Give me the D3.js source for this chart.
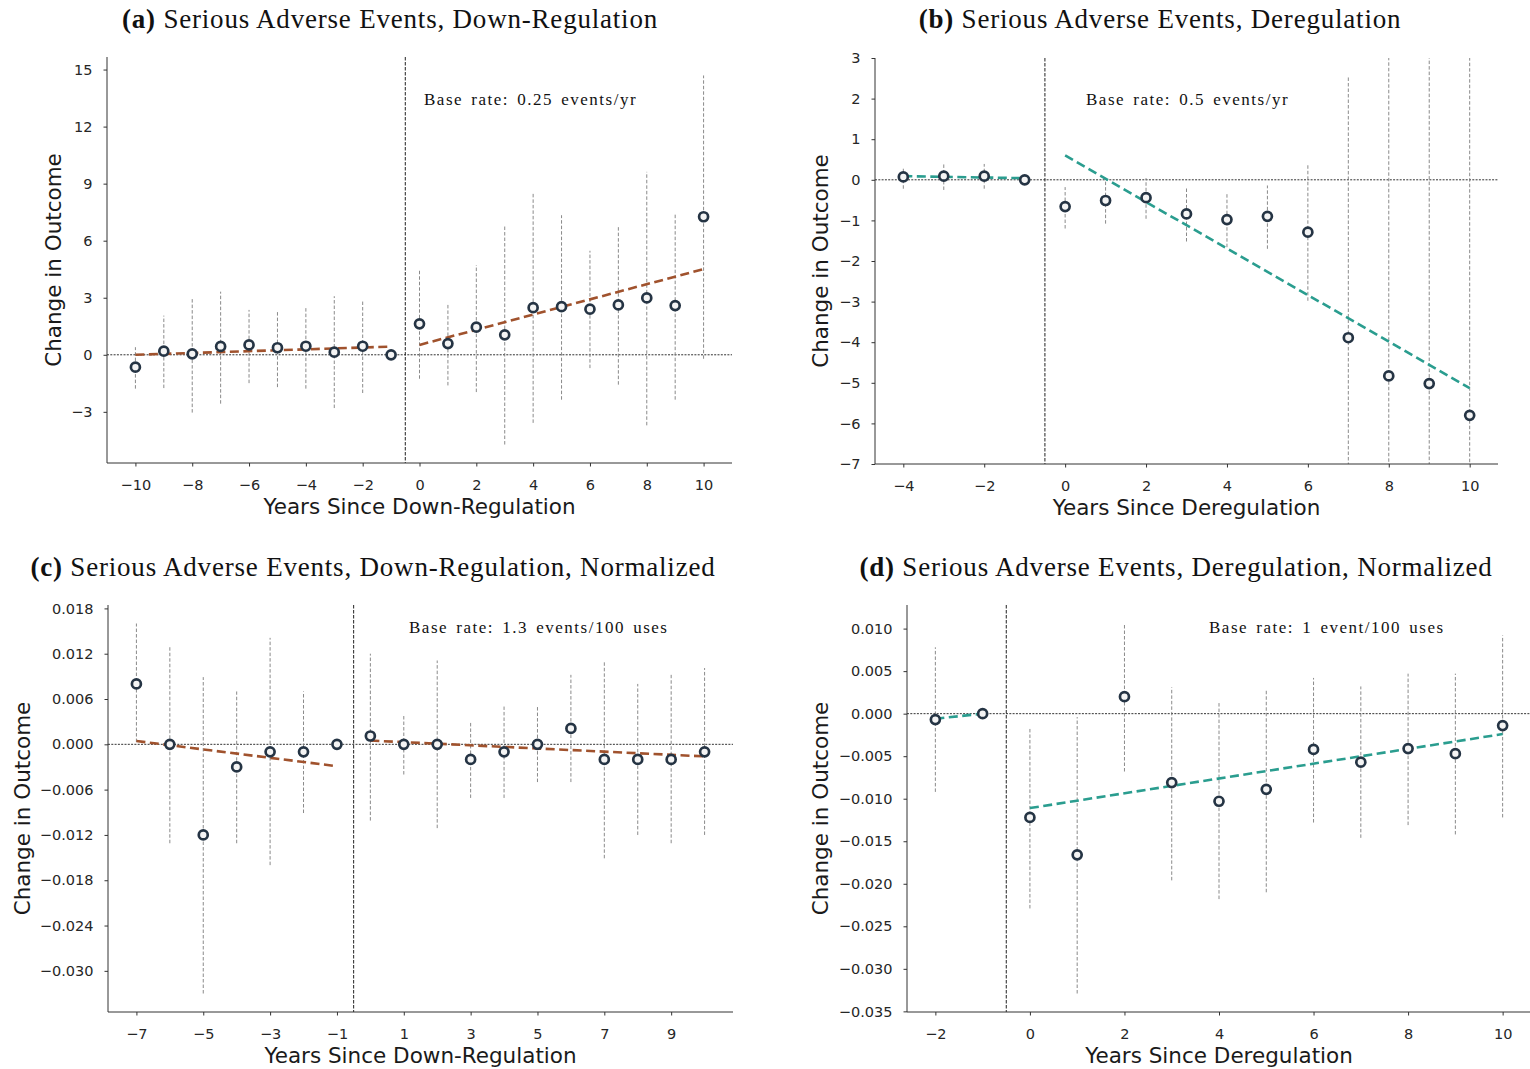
<!DOCTYPE html>
<html>
<head>
<meta charset="utf-8">
<script src="https://cdn.jsdelivr.net/npm/d3@7"></script>
<style>
  body { margin: 0; background: #fff; }
  svg { display: block; }
</style>
</head>
<body>
<div id="chart"></div>
<script>
// panel (a) - serious adverse events, down-regulation
var aYears = [-10, -9, -8, -7, -6, -5, -4, -3, -2, -1, 0, 1, 2, 3, 4, 5, 6, 7, 8, 9, 10];
var aEst  = [-0.65, 0.19, 0.05, 0.44, 0.52, 0.37, 0.45, 0.14, 0.45, 0, 1.63, 0.59, 1.45, 1.05, 2.48, 2.53, 2.40, 2.62, 2.99, 2.59, 7.26];
var aLow  = [-1.78, -1.75, -3.04, -2.57, -1.49, -1.70, -1.78, -2.80, -2.01, 0, -1.26, -1.61, -1.96, -4.72, -3.58, -2.36, -0.70, -1.57, -3.71, -2.36, -0.21];
var aHigh = [0.40, 2.06, 3.02, 3.32, 2.36, 2.29, 2.53, 3.08, 2.80, 0, 4.42, 2.73, 4.72, 6.78, 8.50, 7.34, 5.47, 6.78, 9.62, 7.45, 14.69];
var aTrendPre  = [[-10, 0.0], [-1, 0.43]];
var aTrendPost = [[0, 0.52], [10, 4.51]];

// panel (b) - serious adverse events, deregulation
var bYears = [-4, -3, -2, -1, 0, 1, 2, 3, 4, 5, 6, 7, 8, 9, 10];
var bEst  = [0.07, 0.09, 0.09, 0, -0.66, -0.51, -0.44, -0.84, -0.98, -0.90, -1.29, -3.89, -4.83, -5.02, -5.80];
var bLow  = [-0.22, -0.25, -0.22, 0, -1.20, -1.08, -0.96, -1.52, -1.66, -1.70, -2.98, -10.3, -12.5, -13.0, -14.0];
var bHigh = [0.31, 0.41, 0.39, 0, -0.18, 0.02, 0.04, -0.20, -0.34, -0.14, 0.38, 2.55, 3.4, 3.5, 3.6];
var bTrendPre  = [[-4, 0.09], [-1, 0.04]];
var bTrendPost = [[0, 0.60], [10, -5.13]];

// panel (c) - down-regulation, normalized
var cYears = [-7, -6, -5, -4, -3, -2, -1, 0, 1, 2, 3, 4, 5, 6, 7, 8, 9, 10];
var cEst  = [0.0080, 0.0, -0.0120, -0.0030, -0.0010, -0.0010, 0, 0.0011, 0.0, 0.0, -0.0020, -0.0010, 0.0, 0.0021, -0.0020, -0.0020, -0.0020, -0.0010];
var cLow  = [0.0003, -0.0131, -0.0330, -0.0131, -0.0160, -0.0091, 0, -0.0101, -0.0040, -0.0111, -0.0071, -0.0071, -0.0050, -0.0050, -0.0151, -0.0120, -0.0131, -0.0120];
var cHigh = [0.0160, 0.0131, 0.0089, 0.0070, 0.0141, 0.0070, 0, 0.0120, 0.0039, 0.0111, 0.0030, 0.0050, 0.0050, 0.0092, 0.0111, 0.0080, 0.0092, 0.0101];
var cTrendPre  = [[-7, 0.00044], [-1, -0.0029]];
var cTrendPost = [[0, 0.0005], [10, -0.0016]];

// panel (d) - deregulation, normalized
var dYears = [-2, -1, 0, 1, 2, 3, 4, 5, 6, 7, 8, 9, 10];
var dEst  = [-0.0007, 0, -0.0122, -0.0166, 0.0020, -0.0081, -0.0103, -0.0089, -0.0042, -0.0057, -0.0041, -0.0047, -0.0014];
var dLow  = [-0.0092, 0, -0.0229, -0.0329, -0.0068, -0.0196, -0.0218, -0.0210, -0.0128, -0.0146, -0.0131, -0.0142, -0.0122];
var dHigh = [0.0078, 0, -0.0016, -0.0004, 0.0106, 0.0031, 0.0013, 0.0028, 0.0042, 0.0032, 0.0047, 0.0047, 0.0092];
var dTrendPre  = [[-2, -0.0006], [-1, 0.0]];
var dTrendPost = [[0, -0.0111], [10, -0.0024]];

var yTicksA = [-3, 0, 3, 6, 9, 12, 15];
var yTicksB = [-7, -6, -5, -4, -3, -2, -1, 0, 1, 2, 3];
var yTicksC = [-0.030, -0.024, -0.018, -0.012, -0.006, 0.000, 0.006, 0.012, 0.018];
var yTicksD = [-0.035, -0.030, -0.025, -0.020, -0.015, -0.010, -0.005, 0.000, 0.005, 0.010];
var xTicksA = [-10, -8, -6, -4, -2, 0, 2, 4, 6, 8, 10];
var xTicksB = [-4, -2, 0, 2, 4, 6, 8, 10];
var xTicksC = [-7, -5, -3, -1, 1, 3, 5, 7, 9];
var xTicksD = [-2, 0, 2, 4, 6, 8, 10];

var BROWN = '#a0522d';
var TEAL = '#2a9d8f';

var panels = [
  { tag: '(a)', title: 'Serious Adverse Events, Down-Regulation', titleX: 390, titleY: 28,
    box: [107, 57, 732, 463], xs: aYears, est: aEst, lo: aLow, hi: aHigh, pre: aTrendPre, post: aTrendPost,
    yTicks: yTicksA, xTicks: xTicksA, yFmt: d3.format('d'), yFixed: null, color: BROWN,
    xLabel: 'Years Since Down-Regulation', yLabelOff: 54, note: 'Base rate: 0.25 events/yr', noteX: 424, noteY: 105 },
  { tag: '(b)', title: 'Serious Adverse Events, Deregulation', titleX: 1160, titleY: 28,
    box: [875, 58, 1498, 464], xs: bYears, est: bEst, lo: bLow, hi: bHigh, pre: bTrendPre, post: bTrendPost,
    yTicks: yTicksB, xTicks: xTicksB, yFmt: d3.format('d'), yFixed: [-7, 3], color: TEAL,
    xLabel: 'Years Since Deregulation', yLabelOff: 55, note: 'Base rate: 0.5 events/yr', noteX: 1086, noteY: 105 },
  { tag: '(c)', title: 'Serious Adverse Events, Down-Regulation, Normalized', titleX: 373, titleY: 576,
    box: [108, 605, 733, 1012], xs: cYears, est: cEst, lo: cLow, hi: cHigh, pre: cTrendPre, post: cTrendPost,
    yTicks: yTicksC, xTicks: xTicksC, yFmt: d3.format('.3f'), yFixed: null, color: BROWN,
    xLabel: 'Years Since Down-Regulation', yLabelOff: 86, note: 'Base rate: 1.3 events/100 uses', noteX: 409, noteY: 633 },
  { tag: '(d)', title: 'Serious Adverse Events, Deregulation, Normalized', titleX: 1176, titleY: 576,
    box: [907, 605, 1531, 1012], xs: dYears, est: dEst, lo: dLow, hi: dHigh, pre: dTrendPre, post: dTrendPost,
    yTicks: yTicksD, xTicks: xTicksD, yFmt: d3.format('.3f'), yFixed: null, color: TEAL,
    xLabel: 'Years Since Deregulation', yLabelOff: 87, note: 'Base rate: 1 event/100 uses', noteX: 1209, noteY: 633 }
];

var svg = d3.select('#chart').append('svg')
  .attr('width', 1530)
  .attr('height', 1069);

// matplotlib style 5% padding around the data
function padded(lo, hi) {
  var m = (hi - lo) * 0.05;
  return [lo - m, hi + m];
}

panels.forEach(function (p, i) {
  var x0 = p.box[0], y0 = p.box[1], x1 = p.box[2], y1 = p.box[3];
  var xDom = padded(d3.min(p.xs), d3.max(p.xs));
  var yDom = p.yFixed || padded(d3.min(p.lo), d3.max(p.hi));
  var x = d3.scaleLinear().domain(xDom).range([x0, x1]);
  var y = d3.scaleLinear().domain(yDom).range([y1, y0]);

  var g = svg.append('g');

  svg.append('clipPath').attr('id', 'clip' + i)
    .append('rect').attr('x', x0).attr('y', y0).attr('width', x1 - x0).attr('height', y1 - y0);
  var plot = g.append('g').attr('clip-path', 'url(#clip' + i + ')');

  // reference lines
  plot.append('line')
    .attr('x1', x0).attr('x2', x1).attr('y1', y(0)).attr('y2', y(0))
    .attr('stroke', '#333').attr('stroke-width', 1).attr('stroke-dasharray', '2,1.3');
  plot.append('line')
    .attr('x1', x(-0.5)).attr('x2', x(-0.5)).attr('y1', y0).attr('y2', y1)
    .attr('stroke', '#222').attr('stroke-width', 1).attr('stroke-dasharray', '3.5,1.5');

  // confidence intervals
  var rows = p.xs.map(function (v, k) { return { x: v, e: p.est[k], lo: p.lo[k], hi: p.hi[k] }; });
  plot.selectAll('line.ci').data(rows.filter(function (d) { return d.hi !== d.lo; }))
    .enter().append('line')
    .attr('class', 'ci')
    .attr('x1', function (d) { return x(d.x); }).attr('x2', function (d) { return x(d.x); })
    .attr('y1', function (d) { return y(d.lo); }).attr('y2', function (d) { return y(d.hi); })
    .attr('stroke', '#7d7d7d').attr('stroke-width', 0.9).attr('stroke-dasharray', '3.5,2');

  // fitted trends, before and after
  var line = d3.line().x(function (d) { return x(d[0]); }).y(function (d) { return y(d[1]); });
  [p.pre, p.post].forEach(function (seg) {
    plot.append('path').attr('d', line(seg))
      .attr('fill', 'none').attr('stroke', p.color)
      .attr('stroke-width', 2.6).attr('stroke-dasharray', '9,4.5');
  });

  // estimates
  plot.selectAll('circle').data(rows).enter().append('circle')
    .attr('cx', function (d) { return x(d.x); })
    .attr('cy', function (d) { return y(d.e); })
    .attr('r', 4.5)
    .attr('fill', '#f4f4f4')
    .attr('stroke', '#253444')
    .attr('stroke-width', 2.7);

  // axes
  var yAxis = g.append('g').attr('transform', 'translate(' + x0 + ',0)')
    .call(d3.axisLeft(y).tickValues(p.yTicks).tickFormat(p.yFmt).tickSize(3.5).tickPadding(11).tickSizeOuter(0));
  var xAxis = g.append('g').attr('transform', 'translate(0,' + y1 + ')')
    .call(d3.axisBottom(x).tickValues(p.xTicks).tickFormat(d3.format('d')).tickSize(3.5).tickPadding(13).tickSizeOuter(0));
  [xAxis, yAxis].forEach(function (a) {
    a.select('.domain').attr('stroke', '#333').attr('stroke-width', 1);
    a.selectAll('.tick line').attr('stroke', '#333');
    a.selectAll('.tick text').attr('fill', '#262626')
      .style('font-family', '"DejaVu Sans", sans-serif').style('font-size', '14.5px');
  });
  yAxis.select('.domain').attr('d', 'M0,' + y1 + 'V' + y0);
  xAxis.select('.domain').attr('d', 'M' + x0 + ',0H' + x1);

  // axis labels
  g.append('text')
    .attr('x', (x0 + x1) / 2).attr('y', y1 + 51)
    .attr('text-anchor', 'middle')
    .style('font-family', '"DejaVu Sans", sans-serif').style('font-size', '21.5px').attr('fill', '#1a1a1a')
    .text(p.xLabel);
  g.append('text')
    .attr('transform', 'translate(' + (x0 - p.yLabelOff + 8) + ',' + ((y0 + y1) / 2) + ') rotate(-90)')
    .attr('text-anchor', 'middle')
    .style('font-family', '"DejaVu Sans", sans-serif').style('font-size', '21.5px').attr('fill', '#1a1a1a')
    .text('Change in Outcome');

  // base rate note
  g.append('text')
    .attr('x', p.noteX).attr('y', p.noteY)
    .style('font-family', '"Liberation Serif", "DejaVu Serif", serif').style('font-size', '17px')
    .style('letter-spacing', '1.5px').style('word-spacing', '2.5px').attr('fill', '#111')
    .text(p.note);

  // title
  var t = svg.append('text')
    .attr('x', p.titleX).attr('y', p.titleY)
    .attr('text-anchor', 'middle')
    .style('font-family', '"Liberation Serif", "DejaVu Serif", serif').style('font-size', '27px')
    .style('letter-spacing', '0.8px').attr('fill', '#111');
  t.append('tspan').attr('font-weight', 'bold').text(p.tag);
  t.append('tspan').text(' ' + p.title);
});
</script>
</body>
</html>
